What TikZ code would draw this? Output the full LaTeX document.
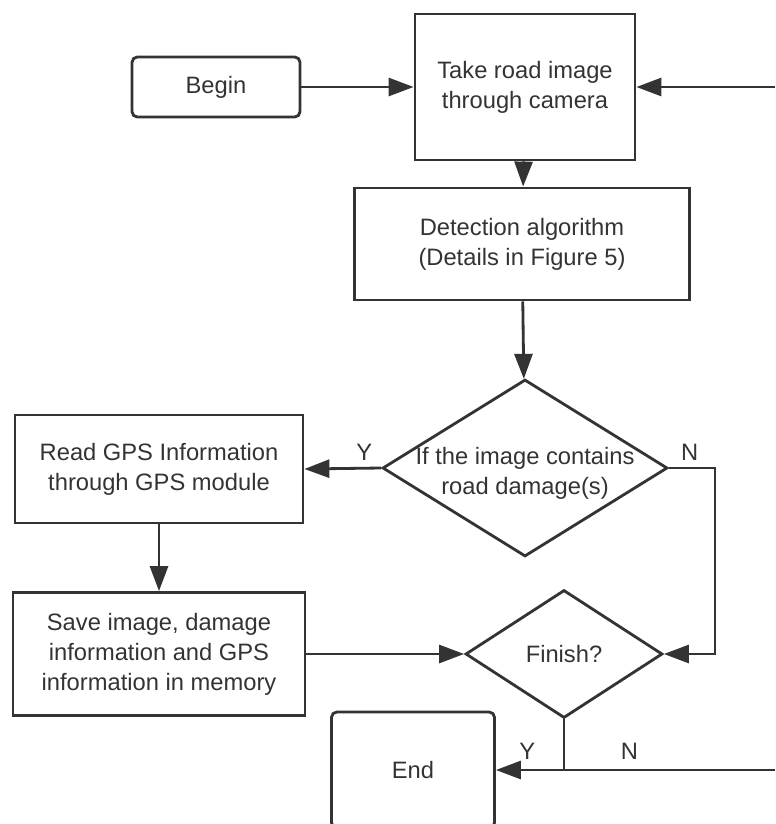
\documentclass[tikz,border=0pt]{standalone}
\usepackage{fontspec}
\setmainfont{Liberation Sans}
\usetikzlibrary{shapes.geometric, arrows.meta, positioning}
\definecolor{inkgray}{HTML}{333333}

\begin{document}
\begin{tikzpicture}[
        x=0.02cm, y=-0.02cm,
        every node/.style={font=\fontsize{13.5}{17}\selectfont, text=inkgray},
        box/.style={rectangle, draw=inkgray, line width=1.6pt, align=center, inner sep=0pt},
        term/.style={box, rounded corners=3pt},
        decision/.style={diamond, draw=inkgray, line width=1.6pt, inner sep=0pt},
        arrow/.style={-{Triangle[length=0.5cm, width=0.36cm]}, line width=1.6pt, draw=inkgray},
        plain/.style={line width=1.6pt, draw=inkgray}
    ]
        \clip (0,0) rectangle (775,824);

        % Start and capture
        \node[term, minimum width=3.36cm, minimum height=1.2cm] (begin) at (216,87) {Begin};
        \node[box, minimum width=4.4cm, minimum height=2.92cm] (take) at (525,87) {Take road image\\through camera};
        \coordinate (loopin) at (775,87);

        % Detection
        \node[box, minimum width=6.7cm, minimum height=2.24cm] (detect) at (522,244) {Detection algorithm\\(Details in Figure 5)};
        \node[decision, minimum width=5.7cm, minimum height=3.54cm,
              label={[align=center, yshift=-3pt]center:If the image contains\\road damage(s)}] (dmg) at (525,468) {};

        % GPS branch
        \node[box, minimum width=5.76cm, minimum height=2.16cm] (gps) at (159,469) {Read GPS Information\\through GPS module};
        \node[box, minimum width=5.84cm, minimum height=2.46cm] (save) at (159,654) {Save image, damage\\information and GPS\\information in memory};

        % Finish check
        \node[decision, minimum width=3.94cm, minimum height=2.56cm] (finish) at (564,654) {Finish?};
        \coordinate (nturn) at (715,468);
        \node[term, minimum width=3.26cm, minimum height=2.32cm] (end) at (413,770) {End};
        \coordinate (nexit) at (775,770);

        % Connectors
        \draw[arrow] (begin) -- (take);
        \draw[arrow] (loopin) -- (take.east);
        \draw[arrow] (take) -- (detect);
        \draw[arrow] (detect) -- (dmg);
        \draw[arrow] (dmg.west) -- node[above, pos=0.22] {Y} (gps.east);
        \draw[arrow] (dmg.east) -- node[above, pos=0.45] {N} (nturn) |- (finish.east);
        \draw[arrow] (gps) -- (save);
        \draw[arrow] (save) -- (finish);
        \draw[arrow] (finish.south) |- node[above, pos=0.77, yshift=2pt] {Y} (end.east);
        \draw[plain] (finish.south |- end.east) -- node[above, pos=0.31, yshift=2pt] {N} (nexit);
    \end{tikzpicture}
\end{document}
